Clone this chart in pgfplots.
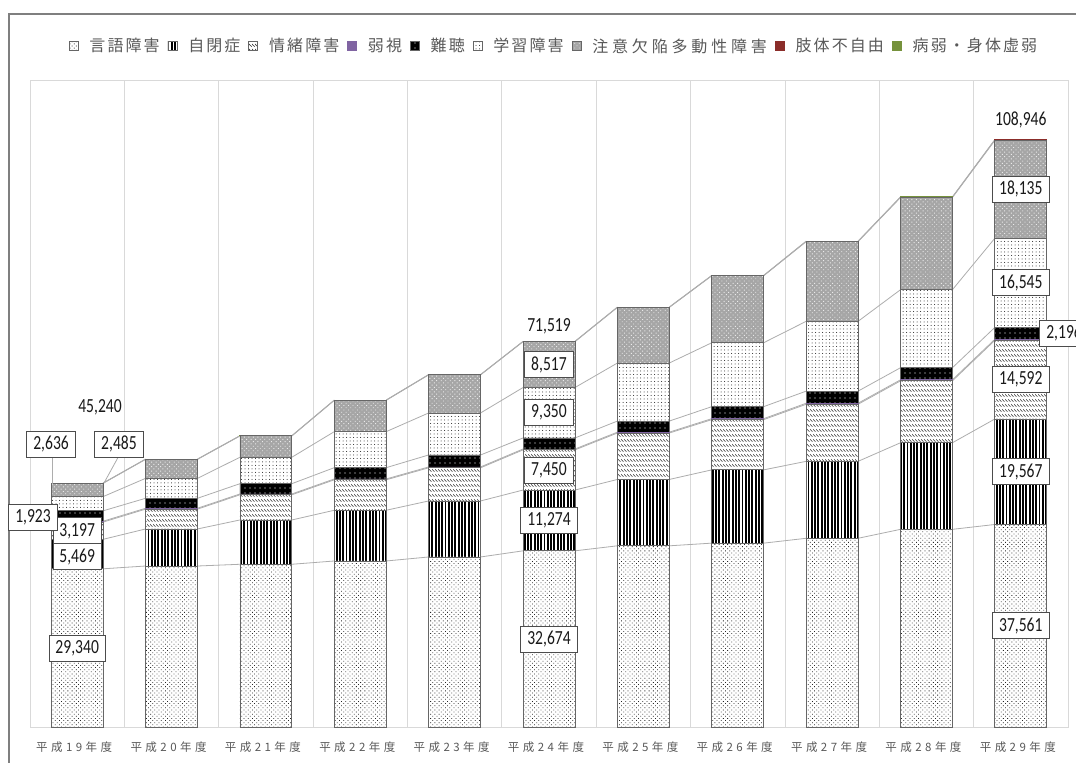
\documentclass[border=0pt]{standalone}
\usepackage{fontspec}
\usepackage{pgfplots}
\usepackage{pgfplotstable}
\pgfplotsset{compat=1.18}
\usetikzlibrary{patterns,patterns.meta}

\newfontfamily\jplegend[LetterSpace=13]{Noto Sans CJK JP}
\newfontfamily\jpwide[LetterSpace=24]{Noto Sans CJK JP}
\newfontfamily\jptick[LetterSpace=30]{Noto Sans CJK JP}
\newfontfamily\numfont[FakeStretch=0.78]{Carlito}

\definecolor{textgray}{HTML}{595959}
\definecolor{framegray}{HTML}{7F7F7F}
\definecolor{gridgray}{HTML}{D9D9D9}
\definecolor{seriesline}{HTML}{ADADAD}
\definecolor{jakushi}{HTML}{8064A2}
\definecolor{shitai}{HTML}{8B2D2A}
\definecolor{byojaku}{HTML}{76923C}
\definecolor{adhdgray}{HTML}{A6A6A6}

% rows of short backslash strokes
\pgfdeclarepattern{
  name=rowhatch,
  type=uncolored,
  bottom left={\pgfpoint{0bp}{0bp}},
  top right={\pgfpoint{3bp}{5bp}},
  tile size={\pgfpoint{3bp}{5bp}},
  code={
    \pgfsetlinewidth{0.75bp}
    \pgfpathmoveto{\pgfpoint{-0.3bp}{4.6bp}}
    \pgfpathlineto{\pgfpoint{3.3bp}{1.6bp}}
    \pgfusepath{stroke}
  }
}

% pupils per category, 平成19年度 (x=0) to 平成29年度 (x=10)
\pgfplotstableread{
x  gengo jihei jocho jakushi nancho ld    adhd  shitai byojaku
0  29340 5469  3197  166     1923   2636  2485  6      18
1  29860 6870  3680  160     1850   3700  3535  10     20
2  30180 8220  4670  150     1910   4900  3961  10     20
3  30790 9410  5650  156     2096   6681  5824  10     20
4  31535 10390 6150  157     2224   7791  7083  10     20
5  32674 11274 7450  161     2051   9350  8517  22     20
6  33606 12308 8613  161     2053   10769 10324 25     23
7  34100 13590 9318  180     2228   11853 12431 30     20
8  35000 14270 10587 190     2245   12948 14775 70     20
9  36660 16060 11480 190     2245   14470 17096 90     20
10 37561 19567 14592 197     2196   16545 18135 124    29
}\datatable

% running totals (segment tops) and their change to the next year
\pgfplotstablecreatecol[create col/expr={\thisrow{gengo}}]{c1}\datatable
\pgfplotstablecreatecol[create col/expr={\thisrow{c1}+\thisrow{jihei}}]{c2}\datatable
\pgfplotstablecreatecol[create col/expr={\thisrow{c2}+\thisrow{jocho}}]{c3}\datatable
\pgfplotstablecreatecol[create col/expr={\thisrow{c3}+\thisrow{jakushi}}]{c4}\datatable
\pgfplotstablecreatecol[create col/expr={\thisrow{c4}+\thisrow{nancho}}]{c5}\datatable
\pgfplotstablecreatecol[create col/expr={\thisrow{c5}+\thisrow{ld}}]{c6}\datatable
\pgfplotstablecreatecol[create col/expr={\thisrow{c6}+\thisrow{adhd}}]{c7}\datatable
\pgfplotstablecreatecol[create col/expr={\thisrow{c7}+\thisrow{shitai}}]{c8}\datatable
\pgfplotstablecreatecol[create col/expr={\thisrow{c8}+\thisrow{byojaku}}]{c9}\datatable
\pgfplotsinvokeforeach{1,...,9}{%
  \pgfplotstablecreatecol[create col/expr={\nextrow{c#1}-\thisrow{c#1}}]{d#1}\datatable
}

\pgfplotsset{
  plotframe/.style={scale only axis, width=1038bp, height=647bp,
    xmin=-0.5, xmax=10.5, ymin=0, ymax=120000,
    at={(30bp,36bp)}, anchor=south west},
  icon/.style={legend image code/.code={%
      \draw[##1, line width=0.5bp] (0bp,-4.5bp) rectangle (9bp,4.5bp);
      \path (18bp,0bp);}},
}
\tikzset{
  lbl/.style={draw=black!70, fill=white, line width=0.8bp,
    font=\numfont\fontsize{20bp}{23bp}\selectfont, text=black!90,
    inner xsep=6.5bp, inner ysep=0bp, minimum height=26bp},
  tot/.style={font=\numfont\fontsize{20bp}{23bp}\selectfont, text=black!90},
  leader/.style={draw=seriesline, line width=0.8bp},
}

\begin{document}
\begin{tikzpicture}
\useasboundingbox (0,0) rectangle (1076bp,763bp);
\fill[white] (0,0) rectangle (1076bp,763bp);
\draw[framegray, line width=1.8bp] (9bp,-5bp) -- (9bp,749bp) -- (1090bp,749bp);

% plot area, category grid, year labels and series lines
\begin{axis}[plotframe,
  axis line style={draw=gridgray, line width=0.8bp},
  ytick=\empty,
  xtick={0,...,10}, major tick length=0,
  xticklabels={平成19年度,平成20年度,平成21年度,平成22年度,平成23年度,平成24年度,平成25年度,平成26年度,平成27年度,平成28年度,平成29年度},
  xticklabel style={font=\jptick\fontsize{11.5bp}{13bp}\selectfont, text=textgray, yshift=-11bp, xshift=-3bp},
  minor xtick={-0.5,0.5,...,10.5}, minor tick length=0,
  xminorgrids, minor grid style={draw=gridgray, line width=0.8bp},
]
\pgfplotsinvokeforeach{1,...,9}{%
  \addplot[draw=seriesline, line width=0.8bp, quiver={u=0.45, v=\thisrow{d#1}},
    skip coords between index={10}{11}]
    table[x expr=\thisrow{x}+0.275, y=c#1] {\datatable};
}
\end{axis}

% stacked bars and legend
\begin{axis}[plotframe, hide axis, clip=false,
  ybar stacked, bar width=0.55,
  legend columns=-1,
  legend style={at={(0.5048,1.0526)}, anchor=center, draw=none, fill=none,
    font=\jplegend\fontsize{16bp}{18bp}\selectfont, text=textgray,
    /tikz/every even column/.append style={column sep=6bp}},
]
\addplot[icon, draw=black!60, line width=0.8bp, preaction={fill=white},
  pattern={Dots[distance=3bp, radius=0.55bp, angle=45]}, pattern color=black!85]
  table[x=x, y=gengo] {\datatable};
\addplot[icon, draw=black!60, line width=0.8bp, preaction={fill=white},
  pattern={Lines[angle=90, distance=3.3bp, line width=1.9bp]}, pattern color=black]
  table[x=x, y=jihei] {\datatable};
\addplot[icon, draw=black!60, line width=0.8bp, preaction={fill=white},
  pattern=rowhatch, pattern color=black!80]
  table[x=x, y=jocho] {\datatable};
\addplot[icon, draw=jakushi, line width=0.8bp, fill=jakushi]
  table[x=x, y=jakushi] {\datatable};
\addplot[icon, draw=black!60, line width=0.8bp, preaction={fill=black},
  pattern={Dots[distance=5bp, radius=0.6bp]}, pattern color=white]
  table[x=x, y=nancho] {\datatable};
\addplot[icon, draw=black!60, line width=0.8bp, preaction={fill=white},
  pattern={Dots[distance=3.5bp, radius=0.5bp]}, pattern color=black!90]
  table[x=x, y=ld] {\datatable};
\addplot[icon, draw=black!60, line width=0.8bp, preaction={fill=adhdgray},
  pattern={Dots[distance=3.2bp, radius=0.65bp, angle=45]}, pattern color=white!92!black]
  table[x=x, y=adhd] {\datatable};
\addplot[icon, draw=shitai, line width=0.8bp, fill=shitai]
  table[x=x, y=shitai] {\datatable};
\addplot[icon, draw=byojaku, line width=1bp, fill=byojaku]
  table[x=x, y=byojaku] {\datatable};
\legend{言語障害,自閉症,情緒障害,弱視,難聴,学習障害,{\jpwide 注意欠陥多動性障害},肢体不自由,病弱・身体虚弱}
\end{axis}

% value labels and their leader lines
\begin{axis}[plotframe, hide axis, clip=false]
% 平成19年度
\draw[leader] (axis cs:-0.267,50000) -- (axis cs:-0.267,45100);
\draw[leader] (axis cs:0.433,50000) -- (axis cs:0.284,45250);
\node[lbl] at (axis cs:0,14670) {29,340};
\node[lbl] at (axis cs:0,31550) {5,469};
\node[lbl] at (axis cs:0,36380) {3,197};
\node[lbl] at (axis cs:-0.468,38950) {1,923};
\node[lbl] at (axis cs:-0.277,52500) {2,636};
\node[lbl] at (axis cs:0.443,52500) {2,485};
\node[tot] at (axis cs:0.242,59360) {45,240};
% 平成24年度
\node[lbl] at (axis cs:5,16337) {32,674};
\node[lbl] at (axis cs:5,38311) {11,274};
\node[lbl] at (axis cs:5,47673) {7,450};
\node[lbl] at (axis cs:5,58285) {9,350};
\node[lbl] at (axis cs:5,67218) {8,517};
\node[tot] at (axis cs:5,74300) {71,519};
% 平成29年度
\node[lbl] at (axis cs:10,18780) {37,561};
\node[lbl] at (axis cs:10,47344) {19,567};
\node[lbl] at (axis cs:10,64424) {14,592};
\node[lbl] at (axis cs:10.458,73015) {2,196};
\node[lbl] at (axis cs:10,82385) {16,545};
\node[lbl] at (axis cs:10,99725) {18,135};
\node[tot] at (axis cs:10,112600) {108,946};
\end{axis}
\end{tikzpicture}
\end{document}
